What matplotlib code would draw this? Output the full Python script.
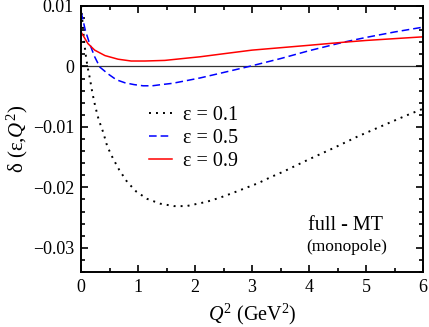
import matplotlib
matplotlib.use('Agg')
import matplotlib.pyplot as plt
from matplotlib.ticker import MultipleLocator, FuncFormatter

plt.rcParams['font.family'] = ['Liberation Serif', 'DejaVu Serif']
plt.rcParams['mathtext.fontset'] = 'custom'
plt.rcParams['mathtext.rm'] = 'Liberation Serif'
plt.rcParams['mathtext.it'] = 'Liberation Serif:italic'

# eps = 0.1 (dotted)
q_01 = [0.0, 0.02, 0.04, 0.06, 0.09, 0.12, 0.16, 0.2, 0.25, 0.31, 0.39, 0.46, 0.56, 0.67,
        0.81, 0.97, 1.16, 1.39, 1.63, 1.85, 2.2, 2.44, 2.67, 2.89, 3.11, 3.33, 3.55,
        3.99, 4.43, 4.85, 5.29, 5.71, 6.0]
d_01 = [0.0100, 0.0080, 0.0058, 0.0037, 0.0014, -0.0003, -0.0022, -0.0044, -0.0066, -0.0088,
        -0.0109, -0.0132, -0.0152, -0.0171, -0.0191, -0.0207, -0.0219, -0.0227, -0.0231,
        -0.0231, -0.0224, -0.0217, -0.0209, -0.0201, -0.0193, -0.0183, -0.0174,
        -0.0154, -0.0135, -0.0116, -0.0098, -0.0081, -0.0070]

# eps = 0.5 (dashed)
q_05 = [0.0, 0.02, 0.075, 0.15, 0.24, 0.33, 0.47, 0.62, 0.77, 0.93, 1.09, 1.25, 1.41,
        1.6, 1.82, 2.09, 2.5, 2.95, 3.5, 4.0, 4.6, 5.0, 5.5, 6.0]
d_05 = [0.0090, 0.0083, 0.0060, 0.0038, 0.0016, -0.0001, -0.0012, -0.0022, -0.0027,
        -0.0030, -0.0032, -0.0032, -0.0030, -0.0028, -0.0024, -0.0019, -0.0010, 0.0,
        0.0013, 0.0026, 0.0040, 0.0048, 0.0057, 0.0065]

# eps = 0.9 (solid)
q_09 = [0.0, 0.02, 0.12, 0.24, 0.42, 0.65, 0.88, 1.12, 1.47, 1.88, 2.09, 2.5, 3.0, 3.5,
        4.0, 4.6, 5.0, 5.5, 6.0]
d_09 = [0.0057, 0.0054, 0.0038, 0.0027, 0.0018, 0.0012, 0.0009, 0.0009, 0.0010, 0.0014,
        0.0016, 0.0021, 0.0027, 0.0031, 0.0035, 0.0040, 0.0043, 0.0046, 0.0049]

fig = plt.figure(figsize=(4.29, 3.27), dpi=100)
ax = fig.add_axes([81 / 429, 1 - 272 / 327, 342 / 429, 266 / 327])

ax.axhline(0, color='#333333', lw=0.9, zorder=1)
ax.plot(q_01, d_01, color='black', lw=1.4, ls=(0, (1, 2.6)), label='ε = 0.1')
ax.plot(q_05, d_05, color='#0000ff', lw=1.1, ls=(0, (5, 2.6)), label='ε = 0.5')
ax.plot(q_09, d_09, color='#ff0000', lw=1.1, label='ε = 0.9')

ax.set_xlim(0, 6)
ax.set_ylim(-0.034, 0.01)
ax.xaxis.set_major_locator(MultipleLocator(1))
ax.xaxis.set_minor_locator(MultipleLocator(0.5))
ax.yaxis.set_major_locator(MultipleLocator(0.01))
ax.yaxis.set_minor_locator(MultipleLocator(0.002))


def yfmt(v, pos):
    if abs(v) < 1e-9:
        return '0'
    return ('%.2f' % v).replace('-', '\u2212')


ax.yaxis.set_major_formatter(FuncFormatter(yfmt))
ax.tick_params(which='both', direction='in', top=True, right=True, labelsize=13, width=1.2)
ax.tick_params(which='major', length=5, pad=5)
ax.tick_params(which='minor', length=3)
for s in ax.spines.values():
    s.set_linewidth(1.4)

ax.set_xlabel('$Q^2$ (GeV$^2$)', fontsize=14.5, labelpad=4)
ax.set_ylabel('δ (ε,$Q^2$)', fontsize=15, labelpad=2)

ax.legend(loc='upper left', bbox_to_anchor=(149 / 429, 1 - 106 / 327),
          bbox_transform=fig.transFigure, frameon=False, fontsize=14.5,
          handlelength=1.15, handletextpad=0.55, labelspacing=0.2,
          borderpad=0, borderaxespad=0)

ax.text(345, 327 - 226, 'full - MT', transform=None, fontsize=14.5,
        ha='center', va='center')
ax.text(347, 327 - 247, '(monopole)', transform=None, fontsize=12.5,
        ha='center', va='center')

fig.savefig('out.png', dpi=100)
